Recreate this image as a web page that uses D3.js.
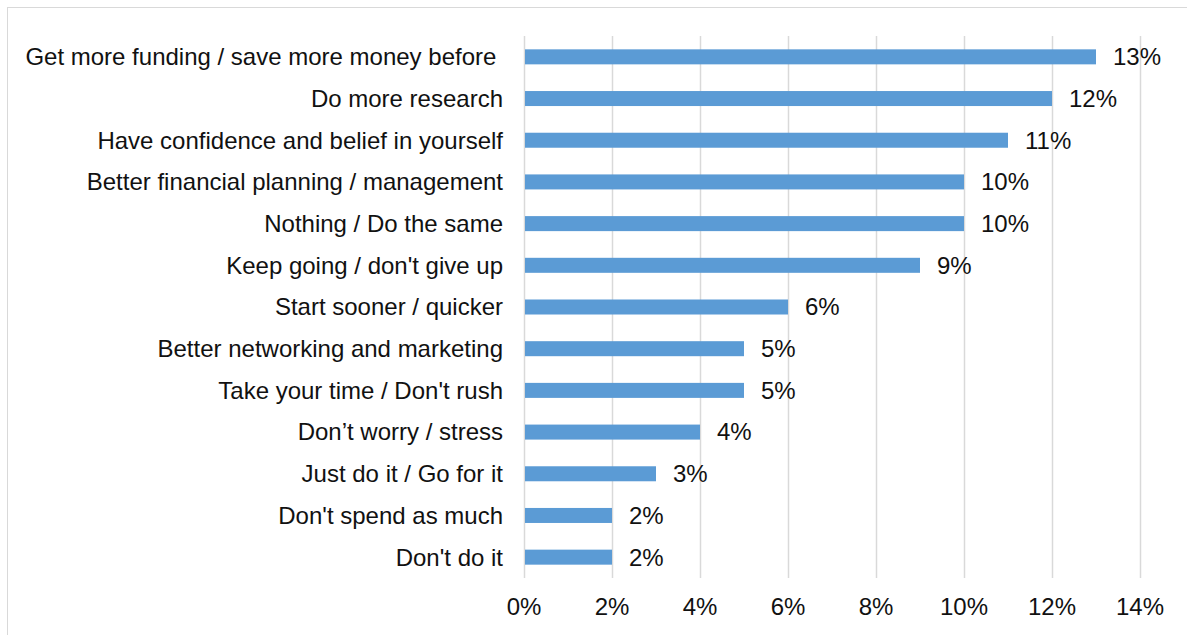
<!DOCTYPE html>
<html>
<head>
<meta charset="utf-8">
<script src="https://cdn.jsdelivr.net/npm/d3@7"></script>
<style>
  html, body { margin: 0; padding: 0; background: #fff; }
  svg { display: block; font-family: "Liberation Sans", Arial, sans-serif; }
  text { white-space: pre; }
</style>
</head>
<body>
<svg id="chart" width="1187" height="635"></svg>
<script>
// Survey answers, top to bottom
const categories = [
  "Get more funding / save more money before ",
  "Do more research",
  "Have confidence and belief in yourself",
  "Better financial planning / management",
  "Nothing / Do the same",
  "Keep going / don't give up",
  "Start sooner / quicker",
  "Better networking and marketing",
  "Take your time / Don't rush",
  "Don\u2019t worry / stress",
  "Just do it / Go for it",
  "Don't spend as much",
  "Don't do it"
];
// Share of respondents (%)
const values = [13, 12, 11, 10, 10, 9, 6, 5, 5, 4, 3, 2, 2];
// X axis ticks (%)
const xTicks = [0, 2, 4, 6, 8, 10, 12, 14];

const svg = d3.select("#chart");
const W = 1187, H = 635;
const FS = 24;

// outer frame
svg.append("rect")
  .attr("x", 7.5).attr("y", 7.5)
  .attr("width", W + 10).attr("height", H + 10)
  .attr("fill", "none").attr("stroke", "#d9d9d9").attr("stroke-width", 1);

const plot = { left: 524, right: 1140, top: 36, bottom: 578 };

const x = d3.scaleLinear().domain([0, 14]).range([plot.left, plot.right]);
const y = d3.scaleBand().domain(categories).range([plot.top, plot.bottom]).paddingInner(0.64).paddingOuter(0.32);

// vertical gridlines
svg.append("g").selectAll("line").data(xTicks).join("line")
  .attr("x1", d => Math.round(x(d)) + 0.5).attr("x2", d => Math.round(x(d)) + 0.5)
  .attr("y1", plot.top).attr("y2", plot.bottom)
  .attr("stroke", "#d9d9d9").attr("stroke-width", 1.5);

// x tick labels
svg.append("g").selectAll("text").data(xTicks).join("text")
  .attr("x", d => x(d)).attr("y", 607)
  .attr("dy", "0.35em")
  .attr("text-anchor", "middle")
  .attr("font-size", FS).attr("fill", "#111")
  .text(d => d + "%");

// bars
svg.append("g").selectAll("rect").data(values).join("rect")
  .attr("x", x(0) + 1)
  .attr("y", (d, i) => y(categories[i]))
  .attr("width", d => x(d) - x(0) - 1)
  .attr("height", y.bandwidth())
  .attr("fill", "#5b9bd5");

// category labels
svg.append("g").selectAll("text").data(categories).join("text")
  .attr("x", 503)
  .attr("y", d => y(d) + y.bandwidth() / 2)
  .attr("dy", "0.35em")
  .attr("text-anchor", "end")
  .attr("font-size", FS).attr("fill", "#111")
  .text(d => d);

// value labels
svg.append("g").selectAll("text").data(values).join("text")
  .attr("x", d => x(d) + 17)
  .attr("y", (d, i) => y(categories[i]) + y.bandwidth() / 2)
  .attr("dy", "0.35em")
  .attr("text-anchor", "start")
  .attr("font-size", FS).attr("fill", "#111")
  .text(d => d + "%");
</script>
</body>
</html>
